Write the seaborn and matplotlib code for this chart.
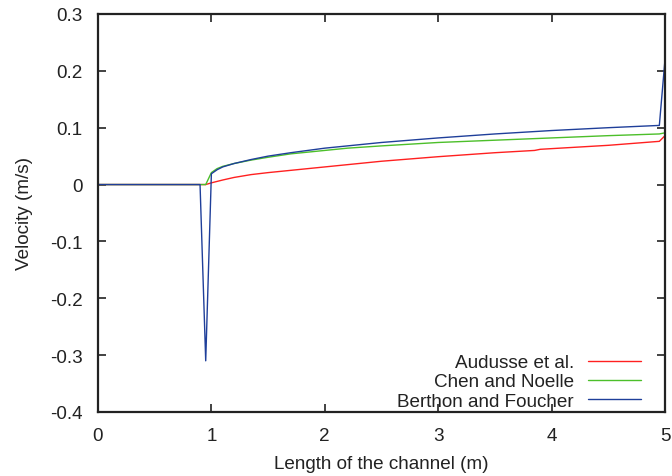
import matplotlib
matplotlib.use("Agg")
import matplotlib.pyplot as plt
import seaborn as sns
import pandas as pd

# --- data ---
x_audusse = [0, 0.95, 1.0, 1.1, 1.2, 1.35, 1.5, 1.7, 2.0, 2.2, 2.5, 3.0, 3.5, 3.85, 3.9, 4.5, 4.95, 5.0]
y_audusse = [0, 0, 0.003, 0.008, 0.0125, 0.0175, 0.021, 0.025, 0.031, 0.035, 0.041, 0.049, 0.056, 0.060, 0.062, 0.069, 0.076, 0.086]

x_chen = [0, 0.95, 1.0, 1.05, 1.1, 1.2, 1.35, 1.5, 1.7, 2.0, 2.2, 2.5, 3.0, 3.5, 4.0, 4.5, 4.95, 5.0]
y_chen = [0, 0, 0.021, 0.028, 0.032, 0.037, 0.043, 0.048, 0.054, 0.060, 0.064, 0.068, 0.074, 0.078, 0.082, 0.086, 0.089, 0.091]

x_berthon = [0, 0.9, 0.95, 1.0, 1.05, 1.1, 1.2, 1.35, 1.5, 1.7, 2.0, 2.2, 2.5, 3.0, 3.5, 4.0, 4.5, 4.95, 5.0]
y_berthon = [0, 0, -0.31, 0.019, 0.026, 0.031, 0.037, 0.044, 0.050, 0.056, 0.064, 0.068, 0.074, 0.082, 0.089, 0.095, 0.100, 0.104, 0.22]

series_names = ["Audusse et al.", "Chen and Noelle", "Berthon and Foucher"]
x_ticks = [0, 1, 2, 3, 4, 5]
x_ticklabels = ["0", "1", "2", "3", "4", "5"]
y_ticks = [-0.4, -0.3, -0.2, -0.1, 0, 0.1, 0.2, 0.3]
y_ticklabels = ["-0.4", "-0.3", "-0.2", "-0.1", "0", "0.1", "0.2", "0.3"]

sns.set_theme(style="white")
plt.rcParams['font.family'] = ['Liberation Sans', 'DejaVu Sans']

FS = 13.6
fig = plt.figure(figsize=(6.72, 4.77), dpi=100)
ax = fig.add_axes([0.1458, 0.1342, 0.8438, 0.8344])

colors = ["#ff2020", "#4cbf2a", "#1f3f9a"]
data = [(x_audusse, y_audusse), (x_chen, y_chen), (x_berthon, y_berthon)]
for (xs, ys), name, c in zip(data, series_names, colors):
    df = pd.DataFrame({"x": xs, "y": ys})
    sns.lineplot(data=df, x="x", y="y", ax=ax, color=c, linewidth=1.0,
                 sort=False, estimator=None, label=name)

ax.set_xlim(0, 5)
ax.set_ylim(-0.4, 0.3)
ax.set_xticks(x_ticks)
ax.set_xticklabels(x_ticklabels)
ax.set_yticks(y_ticks)
ax.set_yticklabels(y_ticklabels)
ax.tick_params(direction="in", length=6, width=1.2, top=True, right=True,
               labelsize=FS, colors="#222222", bottom=True, left=True)
ax.tick_params(axis="x", pad=11)
ax.tick_params(axis="y", pad=11)
for s in ax.spines.values():
    s.set_linewidth(1.6)
    s.set_color("#222222")
    s.set_visible(True)

ax.set_xlabel("Length of the channel (m)", fontsize=FS, color="#222222", labelpad=8)
ax.set_ylabel("Velocity (m/s)", fontsize=FS, color="#222222", labelpad=12)

leg = ax.legend(loc="lower right", frameon=False, markerfirst=False,
                fontsize=FS, handlelength=2.8, handletextpad=0.75,
                labelspacing=0.1, borderaxespad=0.0,
                bbox_to_anchor=(0.971, -0.013))
for t in leg.get_texts():
    t.set_color("#222222")

fig.savefig("out.png", dpi=100)
